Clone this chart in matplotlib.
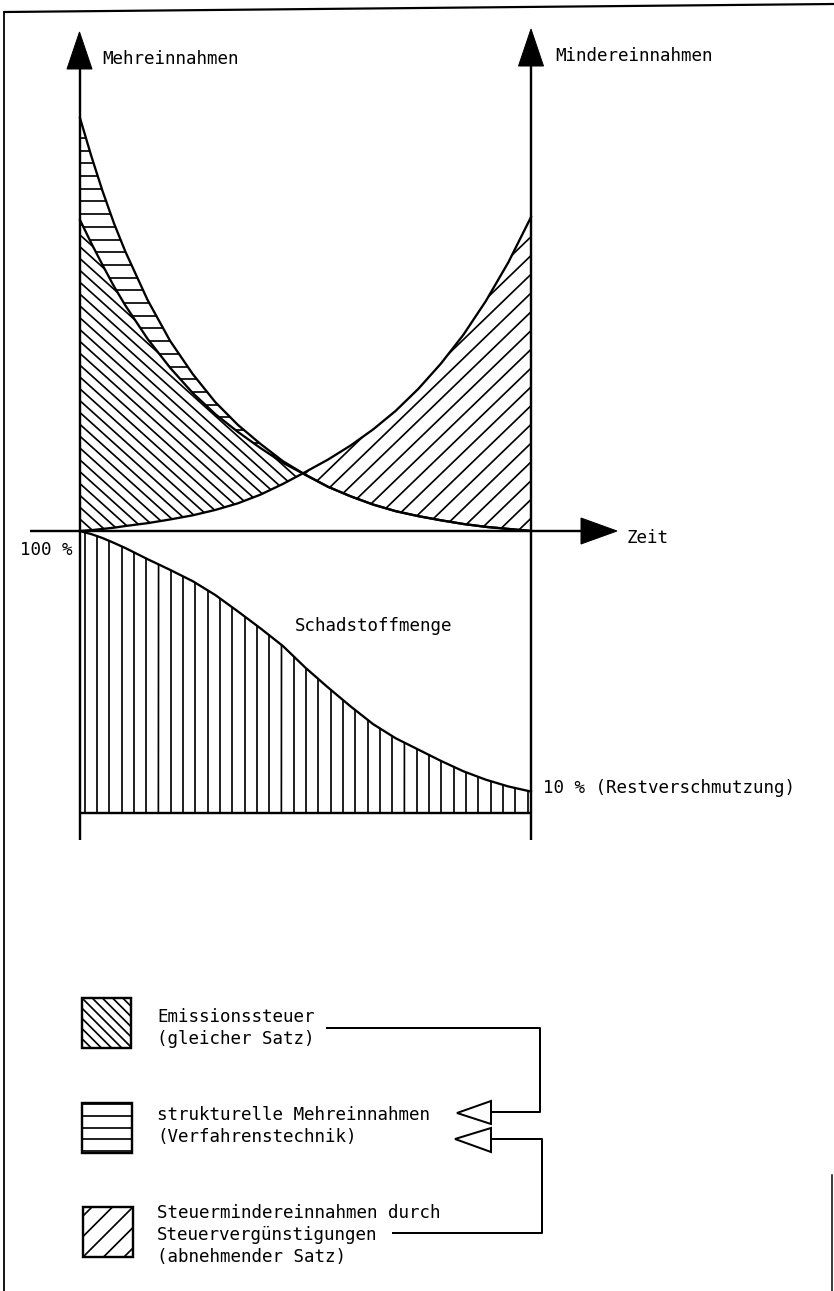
import numpy as np
import matplotlib
matplotlib.use("Agg")
import matplotlib.pyplot as plt
from matplotlib.patches import Polygon, PathPatch, Rectangle
from matplotlib.collections import LineCollection
from matplotlib.transforms import IdentityTransform

W, H, DPI = 834, 1291, 72

# ---------------- data ----------------
zeit = [0, .025, .05, .075, .1, .15, .2, .25, .3, .35, .4, .45, .5,
        .55, .6, .65, .7, .75, .8, .85, .9, .95, 1.0]
# upper envelope: Emissionssteuer + strukturelle Mehreinnahmen (index, start = 100)
mehreinnahmen_gesamt = [100.0, 90.8, 82.3, 74.6, 67.8, 55.9, 46.0, 38.0, 31.2, 25.7,
                        21.1, 16.9, 13.6, 10.7, 8.4, 6.4, 4.8, 3.6, 2.6, 1.7, 1.0, 0.5, 0.0]
# Emissionssteuer (gleicher Satz)
emissionssteuer = [75.3, 69.7, 64.4, 59.3, 54.7, 46.5, 39.5, 33.4, 28.3, 24.0,
                   20.1, 16.5, 13.6, 10.7, 8.4, 6.4, 4.8, 3.6, 2.6, 1.7, 1.0, 0.5, 0.0]
# Steuermindereinnahmen durch Steuervergünstigungen
mindereinnahmen = [0, 0.2, 0.5, 0.8, 1.2, 1.9, 2.8, 3.8, 5.1, 6.7, 8.8, 11.4, 14.3,
                   17.3, 20.7, 24.6, 29.1, 34.4, 40.5, 47.5, 55.7, 65.1, 76.0]
# Schadstoffmenge in %
schadstoffmenge = [100, 98.9, 97.5, 95.8, 94, 90, 86.2, 82.2, 77.3, 71.5, 65.5, 59.2,
                   51.5, 44.5, 37.8, 31.5, 26.5, 22.5, 18.5, 14.8, 11.8, 9.4, 7.6]

axis_labels = ["Mehreinnahmen", "Mindereinnahmen", "Zeit", "100 %",
               "Schadstoffmenge", "10 % (Restverschmutzung)"]
legend_labels = [["Emissionssteuer", "(gleicher Satz)"],
                 ["strukturelle Mehreinnahmen", "(Verfahrenstechnik)"],
                 ["Steuermindereinnahmen durch", "Steuervergünstigungen",
                  "(abnehmender Satz)"]]

# ---------------- figure ----------------
FONT = dict(family="DejaVu Sans Mono", size=17.5, color="black")
fig = plt.figure(figsize=(W / DPI, H / DPI), dpi=DPI)
fig.patch.set_facecolor("white")


def px_axes(x0, top, w, h):
    return fig.add_axes([x0 / W, 1 - (top + h) / H, w / W, h / H])


ax_up = px_axes(80, 118, 451, 413)
ax_lo = px_axes(80, 531, 451, 282)
for a in (ax_up, ax_lo):
    a.set_xlim(0, 1)
    a.set_ylim(0, 100)
    a.axis("off")
ov = fig.add_axes([0, 0, 1, 1])
ov.set_xlim(0, W)
ov.set_ylim(H, 0)
ov.axis("off")


def hatch_segments(angle, spacing, anchor_img):
    th = np.deg2rad(angle)
    d = np.array([np.cos(th), np.sin(th)])
    n = np.array([-np.sin(th), np.cos(th)])
    anchor = np.array([anchor_img[0], H - anchor_img[1]])
    o0 = anchor @ n
    L = 2500
    segs = []
    for k in range(-320, 320):
        c = (o0 + k * spacing) * n
        segs.append([c - L * d, c + L * d])
    return segs


def hatch_patch(ax, patch, angle, spacing, anchor, lw=1.7):
    lc = LineCollection(hatch_segments(angle, spacing, anchor), colors="black",
                        linewidths=lw, transform=IdentityTransform())
    lc.set_clip_path(patch)
    ax.add_collection(lc, autolim=False)


def hatch_coll(ax, coll, angle, spacing, anchor, lw=1.7):
    coll.set_facecolor("none")
    coll.set_edgecolor("none")
    for p in coll.get_paths():
        patch = PathPatch(p, transform=ax.transData, fc="none", ec="none")
        ax.add_patch(patch)
        hatch_patch(ax, patch, angle, spacing, anchor, lw)


z = np.array(zeit)
G = np.array(mehreinnahmen_gesamt)
E = np.array(emissionssteuer)
M = np.array(mindereinnahmen)
S = np.array(schadstoffmenge)

c_em = ax_up.fill_between(z, M, E, where=E >= M, interpolate=True)
hatch_coll(ax_up, c_em, -42, 8.8, (80, 531))
c_st = ax_up.fill_between(z, E, G, where=z <= 0.5)
hatch_coll(ax_up, c_st, 0, 12.7, (80, 430))
c_mi = ax_up.fill_between(z, G, M, where=M >= G, interpolate=True)
hatch_coll(ax_up, c_mi, 44, 13.5, (531, 218))
c_lo = ax_lo.fill_between(z, 0, S)
hatch_coll(ax_lo, c_lo, 90, 12.3, (97, 700))

for y in (G, E, M):
    ax_up.plot(z, y, color="black", lw=2.3, clip_on=False, solid_joinstyle="round")
ax_lo.plot(z, S, color="black", lw=2.3, clip_on=False, solid_joinstyle="round")

# ---------------- axes, arrows ----------------
K = dict(color="black", lw=2.4, solid_capstyle="butt")
ov.plot([80, 80], [840, 66], **K)
ov.plot([531, 531], [840, 64], **K)
ov.plot([30, 583], [531, 531], **K)
ov.plot([80, 531], [813, 813], **K)
ov.add_patch(Polygon([[67, 69], [92, 69], [79.5, 32]], closed=True, fc="black", ec="black", lw=1))
ov.add_patch(Polygon([[518.5, 66], [543.5, 66], [531, 29]], closed=True, fc="black", ec="black", lw=1))
ov.add_patch(Polygon([[581, 518], [581, 544], [617, 531]], closed=True, fc="black", ec="black", lw=1))

ov.text(102, 64, axis_labels[0], ha="left", va="baseline", **FONT)
ov.text(555, 61, axis_labels[1], ha="left", va="baseline", **FONT)
ov.text(627, 543, axis_labels[2], ha="left", va="baseline", **FONT)
ov.text(20, 555, axis_labels[3], ha="left", va="baseline", **FONT)
ov.text(295, 631, axis_labels[4], ha="left", va="baseline", **FONT)
ov.text(543, 793, axis_labels[5], ha="left", va="baseline", **FONT)

# ---------------- legend ----------------
boxes = [(82, 998, 49, 50), (82, 1103, 50, 50), (83, 1207, 50, 50)]
hatches = [(-45, 7.2, (82, 998)), (0, 11.7, (82, 1116)), (45, 14.5, (83, 1257))]
for (x, y, w, h), (ang, sp, anc) in zip(boxes, hatches):
    clip = Polygon([[x, y], [x + w, y], [x + w, y + h], [x, y + h]], closed=True,
                   fc="none", ec="none")
    ov.add_patch(clip)
    hatch_patch(ov, clip, ang, sp, anc, lw=1.7)
    ov.add_patch(Rectangle((x, y), w, h, fc="none", ec="black", lw=2.4))

baselines = [[1022, 1044], [1120, 1142], [1218, 1240, 1262]]
for lines, bls in zip(legend_labels, baselines):
    for t, b in zip(lines, bls):
        ov.text(157, b, t, ha="left", va="baseline", **FONT)

C = dict(color="black", lw=2.0)
ov.plot([327, 540, 540, 491], [1028, 1028, 1112, 1112], **C)
ov.plot([393, 542, 542, 491], [1233, 1233, 1139, 1139], **C)
ov.add_patch(Polygon([[491, 1101], [491, 1124], [457, 1113]], closed=True, fc="white", ec="black", lw=2.0))
ov.add_patch(Polygon([[491, 1128], [491, 1152], [455, 1139]], closed=True, fc="white", ec="black", lw=2.0))

# ---------------- frame ----------------
ov.plot([4.5, 4.5], [12, 1291], color="black", lw=1.8)
ov.plot([4.5, 834], [12, 4], color="black", lw=2.2)
ov.plot([832.5, 832.5], [1175, 1291], color="black", lw=1.5)

fig.savefig("out.png", dpi=DPI, facecolor="white")
